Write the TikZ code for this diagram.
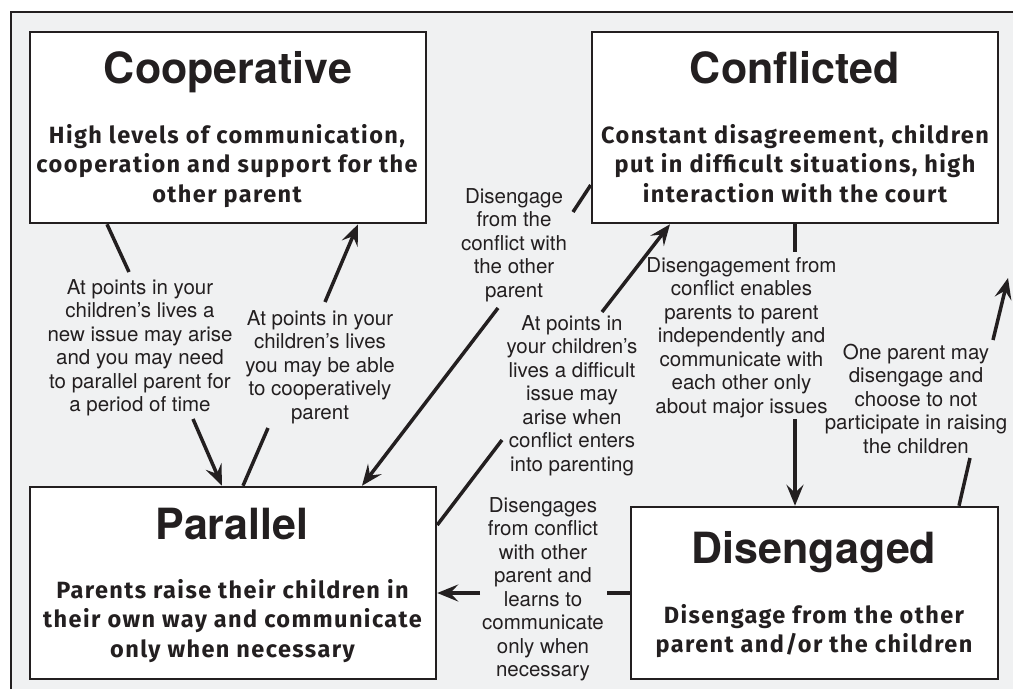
\documentclass[tikz,border=0pt]{standalone}
\usepackage{fontspec}
\setmainfont{TeX Gyre Heros}
\newfontfamily\bodyfont[LetterSpace=6]{Fira Sans}
\usetikzlibrary{arrows.meta}
\definecolor{ink}{HTML}{231F20}
\definecolor{bg}{HTML}{F0F1F2}
\tikzset{
  box/.style={draw=ink, line width=2.5pt, fill=white, inner sep=0pt},
  title/.style={font=\bfseries\fontsize{43}{50}\selectfont, text=ink, anchor=base, inner sep=0pt},
  body/.style={font=\bodyfont\bfseries\fontsize{23.5}{29.5}\selectfont, text=ink, align=center, anchor=base, inner sep=0pt},
  lab/.style={font=\fontsize{20.5}{23.5}\selectfont, text=ink, align=center, anchor=base, inner sep=0pt},
  conn/.style={line width=3.5pt, draw=ink},
  arr/.style={conn, -{Stealth[length=21pt,width=17pt,inset=8pt]}},
  frame/.style={draw=ink, line width=2pt}
}
\begin{document}
\begin{tikzpicture}[x=1pt,y=-1pt]
\useasboundingbox (0,0) rectangle (1013,689);
\fill[bg] (11,12) rectangle (1013,689);
\draw[frame] (11,689) -- (11,12) -- (1013,12);

% boxes
\node[box, minimum width=396pt, minimum height=191pt] (coop) at (228,127.5) {};
\node[box, minimum width=406pt, minimum height=191pt] (conf) at (795,127.5) {};
\node[box, minimum width=406pt, minimum height=192pt] (par) at (233,583) {};
\node[box, minimum width=367pt, minimum height=172pt] (dis) at (814.5,593) {};

% titles
\node[title] (coopT) at (228,83) {Cooperative};
\node[title] (confT) at (795,83) {Conflicted};
\node[title] (parT) at (232,539) {Parallel};
\node[title] (disT) at (814,563) {Disengaged};

% bodies (anchored at the baseline of the last line)
\node[body] (coopB) at (227,202) {High levels of communication,\\cooperation and support for the\\other parent};
\node[body] (confB) at (795,202) {Constant disagreement, children\\put in difficult situations, high\\interaction with the court};
\node[body] (parB) at (232.5,657) {Parents raise their children in\\their own way and communicate\\only when necessary};
\node[body] (disB) at (814,652.5) {Disengage from the other\\parent and/or the children};

% labels (anchored at the baseline of the last line)
\node[lab] (l1) at (140,411.5) {At points in your\\children’s lives a\\new issue may arise\\and you may need\\to parallel parent for\\a period of time};
\node[lab] (l2) at (320,419) {At points in your\\children’s lives\\you may be able\\to cooperatively\\parent};
\node[lab] (l3) at (514,297) {Disengage\\from the\\conflict with\\the other\\parent};
\node[lab] (l4) at (572,471) {At points in\\your children’s\\lives a difficult\\issue may\\arise when\\conflict enters\\into parenting};
\node[lab] (l5) at (741.5,413) {Disengagement from\\conflict enables\\parents to parent\\independently and\\communicate with\\each other only\\about major issues};
\node[lab] (l6) at (916,453) {One parent may\\disengage and\\choose to not\\participate in raising\\the children};
\node[lab] (l7) at (543,676.5) {Disengages\\from conflict\\with other\\parent and\\learns to\\communicate\\only when\\necessary};

% connector points
\coordinate (a1) at (129,272); \coordinate (a2) at (193,419);
\coordinate (b1) at (268,428); \coordinate (b2) at (325,302);
\coordinate (c1) at (573,212); \coordinate (c2) at (498,308);
\coordinate (d1) at (502,440); \coordinate (d2) at (602,312);
\coordinate (e1) at (795,252); \coordinate (e2) at (795,419);
\coordinate (f1) at (970,458); \coordinate (f2) at (993,340); \coordinate (f3) at (1008,278);
\coordinate (g1) at (607,593); \coordinate (g2) at (480,593);

% connectors
\draw[conn] ([xshift=-121pt]coop.south) -- (a1);
\draw[arr] (a2) -- ([xshift=-11pt]par.north);
\draw[conn] ([xshift=10pt]par.north) -- (b1);
\draw[arr] (b2) -- ([xshift=130pt]coop.south);
\draw[conn] ([yshift=-57.5pt]conf.west) -- (c1);
\draw[arr] (c2) -- ([xshift=129pt]par.north);
\draw[conn] ([yshift=58pt]par.east) -- (d1);
\draw[arr] (d2) -- ([xshift=-125pt]conf.south);
\draw[conn] (conf.south) -- (e1);
\draw[arr] (e2) -- ([xshift=-19.5pt]dis.north);
\draw[conn] ([xshift=144.5pt]dis.north) -- (f1);
\draw[arr] (f2) -- (f3);
\draw[conn] (dis.west) -- (g1);
\draw[arr] (g2) -- ([yshift=-10pt]par.east);
\end{tikzpicture}
\end{document}
